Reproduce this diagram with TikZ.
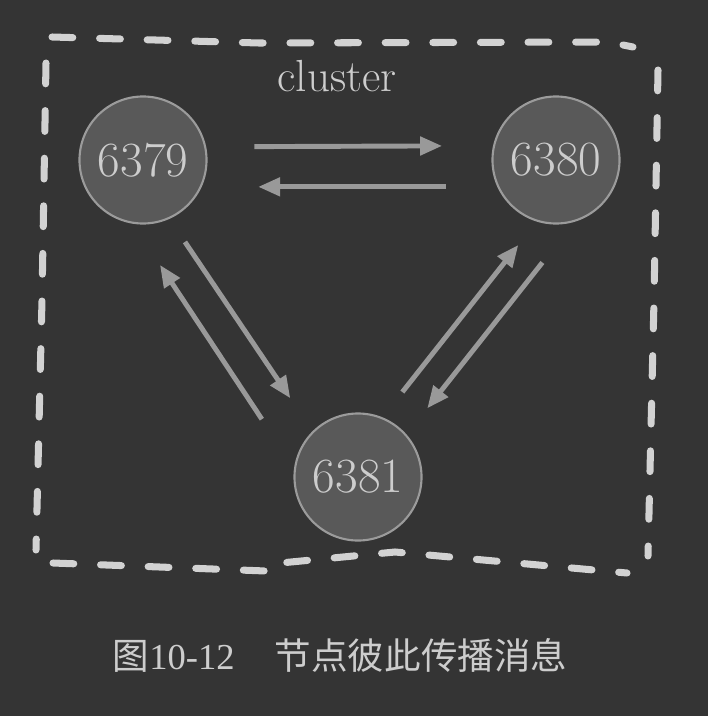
\documentclass[tikz,border=0pt]{standalone}
\usepackage{fontspec}
\usepackage{tikz}
\usetikzlibrary{arrows.meta}
\newfontfamily\cjk{Noto Sans CJK SC}
\newfontfamily\capfont{Liberation Serif}
\definecolor{bg}{HTML}{343434}
\definecolor{dashcol}{HTML}{D2D2D2}
\definecolor{nodefill}{HTML}{595959}
\definecolor{nodeline}{HTML}{9B9B9B}
\definecolor{arrowcol}{HTML}{999999}
\definecolor{txt}{HTML}{CDCDCD}

\begin{document}
\begin{tikzpicture}[x=0.025cm, y=-0.025cm,
  port/.style={circle, draw=nodeline, fill=nodefill, line width=1.5pt, minimum size=3.175cm, inner sep=0pt, outer sep=0pt, text=txt, font=\fontsize{35}{40}\selectfont},
  msg/.style={draw=arrowcol, line width=3.5pt, -{Triangle[length=0.55cm, width=0.45cm]}},
  border/.style={draw=dashcol, line width=5pt, line cap=round, dash pattern=on 0.52cm off 0.67cm}]
\fill [bg] (0, 0) rectangle (708, 716);
\draw [border] (52, 37) -- (259, 43) -- (608, 42) -- (633, 47);
\draw [border] (658, 70) -- (654, 300) -- (648, 556);
\draw [border] (53, 563) -- (266, 571) -- (270, 564) -- (395, 552) -- (627, 573);
\draw [border] (46, 63) -- (42, 300) -- (36, 550);
\node [text=txt, font=\fontsize{32}{36}\selectfont] (label) at (337, 76) {cluster};
\node [port] (p6379) at (143, 160) {6379};
\node [port] (p6380) at (556, 160) {6380};
\node [port] (p6381) at (358, 477) {6381};
\foreach \s/\t/\as/\at/\ss/\se in {p6379/p6380/12.7/167.3/1.23cm/1.30cm, p6380/p6379/205.2/-25.2/1.31cm/1.44cm, p6379/p6381/-66/135.1/0.72cm/1.02cm, p6381/p6379/173.7/260.1/1.50cm/1.27cm, p6381/p6380/68.5/253.6/0.83cm/0.77cm, p6380/p6381/288.5/41.5/1.34cm/0.86cm}
  {\draw [msg, shorten <=\ss, shorten >=\se] (\s.\as) -- (\t.\at);}
\node [text=txt, font=\fontsize{26}{30}\selectfont] (caption) at (340, 655) {{\cjk 图}{\capfont 10-12}\hspace{1.1em}{\cjk 节点彼此传播消息}};
\end{tikzpicture}
\end{document}
